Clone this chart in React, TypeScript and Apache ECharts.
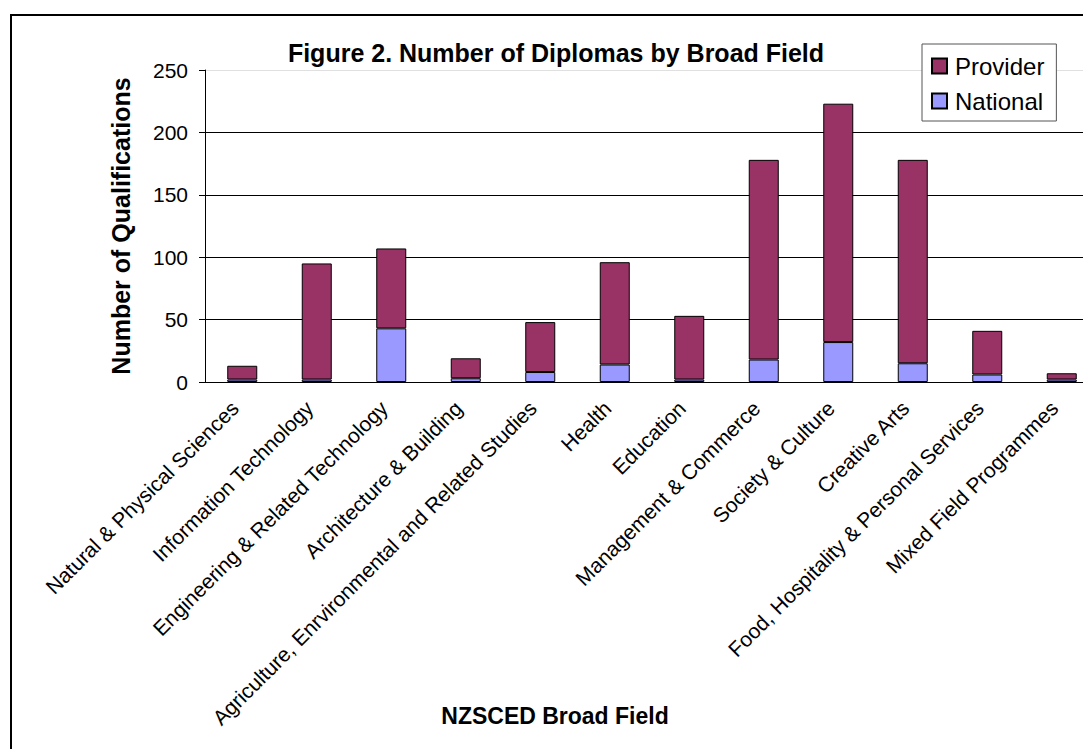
import React, { useEffect, useRef } from "react";
import * as echarts from "echarts";

const categories = [
  "Natural & Physical Sciences",
  "Information Technology",
  "Engineering & Related Technology",
  "Architecture & Building",
  "Agriculture, Enrvironmental and Related Studies",
  "Health",
  "Education",
  "Management & Commerce",
  "Society & Culture",
  "Creative Arts",
  "Food, Hospitality & Personal Services",
  "Mixed Field Programmes",
];
const nationalValues = [2, 2, 43, 3, 8, 14, 2, 18, 32, 15, 6, 2];
const providerValues = [11, 93, 64, 16, 40, 82, 51, 160, 191, 163, 35, 5];
const yTicks = [0, 50, 100, 150, 200, 250];

const FONT = "'Liberation Sans', Arial, sans-serif";

export default function App() {
  const ref = useRef<HTMLDivElement>(null);
  useEffect(() => {
    if (!ref.current) return;
    const chart = echarts.init(ref.current, undefined, { renderer: "svg" });
    chart.setOption({
      animation: false,
      backgroundColor: "#ffffff",
      textStyle: { fontFamily: FONT },
      graphic: [
        {
          type: "rect",
          shape: { x: 11, y: 15, width: 1200, height: 900 },
          style: { fill: "none", stroke: "#000", lineWidth: 2 },
          z: 100,
          silent: true,
        },
        {
          type: "text",
          x: 556,
          y: 53,
          style: {
            text: "Figure 2. Number of Diplomas by Broad Field",
            font: `bold 25px ${FONT}`,
            fill: "#000",
            textAlign: "center",
            textVerticalAlign: "middle",
          },
        },
        {
          type: "text",
          x: 555,
          y: 716,
          style: {
            text: "NZSCED Broad Field",
            font: `bold 23px ${FONT}`,
            fill: "#000",
            textAlign: "center",
            textVerticalAlign: "middle",
          },
        },
      ],
      legend: {
        data: ["Provider", "National"],
        orient: "vertical",
        left: 922,
        top: 44,
        padding: [10, 12, 8, 9],
        itemGap: 11,
        itemWidth: 15,
        itemHeight: 15,
        icon: "rect",
        backgroundColor: "#fff",
        borderColor: "#555",
        borderWidth: 1,
        textStyle: { fontSize: 24, color: "#000", fontFamily: FONT, padding: [0, 0, 0, 3] },
        z: 20,
      },
      grid: {
        left: 205,
        top: 70,
        width: 894,
        height: 312,
        containLabel: false,
        outerBoundsMode: "none",
      },
      xAxis: {
        type: "category",
        data: categories,
        axisLine: { lineStyle: { color: "#000", width: 1 } },
        axisTick: { length: 6, lineStyle: { color: "#808080" } },
        axisLabel: {
          rotate: 45,
          interval: 0,
          margin: 30,
          fontSize: 21,
          color: "#000",
          fontFamily: FONT,
          verticalAlign: "bottom",
        },
      },
      yAxis: {
        type: "value",
        min: yTicks[0],
        max: yTicks[yTicks.length - 1],
        interval: 50,
        axisLine: { show: true, lineStyle: { color: "#000", width: 1 } },
        axisTick: { show: true, length: 6, lineStyle: { color: "#000" } },
        axisLabel: { margin: 17, fontSize: 21, color: "#000", fontFamily: FONT },
        splitLine: {
          show: true,
          lineStyle: { color: ["#000", "#000", "#000", "#000", "#000", "#e0e0e0"], width: 1 },
        },
        name: "Number of Qualifications",
        nameLocation: "middle",
        nameGap: 72,
        nameMoveOverlap: false,
        nameTextStyle: { fontSize: 25, fontWeight: "bold", color: "#000", fontFamily: FONT },
      },
      series: [
        {
          name: "National",
          type: "bar",
          stack: "total",
          data: nationalValues,
          barWidth: 30,
          itemStyle: { color: "#9999FF", borderColor: "#000", borderWidth: 1 },
        },
        {
          name: "Provider",
          type: "bar",
          stack: "total",
          data: providerValues,
          barWidth: 30,
          itemStyle: { color: "#993366", borderColor: "#000", borderWidth: 1 },
        },
      ],
    });
    return () => chart.dispose();
  }, []);
  return (
    <div
      ref={ref}
      style={{ position: "fixed", left: 0, top: 0, width: 1083, height: 749, background: "#fff" }}
    />
  );
}
